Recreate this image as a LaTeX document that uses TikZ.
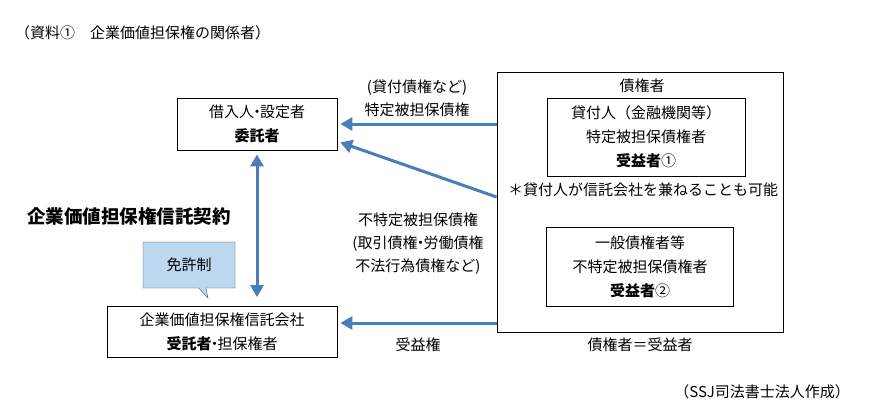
\documentclass[tikz,border=0pt]{standalone}
\usepackage{fontspec}
\setmainfont{Noto Sans CJK JP}
\usepackage{tikz}
\usetikzlibrary{arrows.meta,shapes.callouts}
\definecolor{arrblue}{RGB}{74,126,187}
\definecolor{calloutblue}{RGB}{189,215,238}
\newcommand{\nkg}{\kern-0.3em・\kern-0.3em}

\begin{document}
\begin{tikzpicture}
		[x=1pt,y=-1pt,
		 box/.style= {draw=black,thick,align=center,inner sep=0pt,font=\fontsize{15}{24}\selectfont},
		 lbl/.style= {align=center,inner sep=0pt,font=\fontsize{15}{23}\selectfont},
		 arr/.style= {arrblue,line width=3pt,-{Triangle[length=12pt,width=13pt]}}]

		\useasboundingbox (0,0) rectangle (872,418);

		\node[lbl,anchor=west] (title) at (15,33) {（資料①　企業価値担保権の関係者）}
		;

		\node[box,minimum width=160pt,minimum height=52pt] (itaku) at (257,124)
			{借入人\nkg 設定者\\\textbf{委託者}}
		;

		\node[box,minimum width=230pt,minimum height=51pt] (jutaku) at (222,332)
			{企業価値担保権信託会社\\\textbf{受託者}\nkg 担保権者}
		;

		\node[box,minimum width=286pt,minimum height=260pt] (saiken) at (640,202) {}
		;

		\node[lbl] (saikentitle) at (642,86) {債権者}
		;

		\node[box,minimum width=198pt,minimum height=78pt] (jueki1) at (646,137)
			{貸付人（金融機関等）\\特定被担保債権者\\\textbf{受益者}①}
		;

		\node[lbl] (kaneru) at (643,190) {＊貸付人が信託会社を兼ねることも可能}
		;

		\node[box,minimum width=187pt,minimum height=79pt] (jueki2) at (640,267)
			{一般債権者等\\不特定被担保債権者\\\textbf{受益者}②}
		;

		\node[lbl] (equal) at (640,345) {債権者＝受益者}
		;

		\node[lbl,anchor=west,font=\fontsize{18.5}{22}\selectfont\bfseries] (keiyaku) at (27,216)
			{企業価値担保権信託契約}
		;

		\node[rectangle callout,draw=black!70,fill=calloutblue,minimum width=92pt,minimum height=46pt,
			callout absolute pointer={(208,298)},font=\fontsize{15}{20}\selectfont] (menkyo) at (189,265)
			{免許制}
		;

		\node[lbl] (tokutei) at (417,98) {(貸付債権など)\\特定被担保債権}
		;

		\node[lbl] (futokutei) at (418,244) {不特定被担保債権\\(取引債権\nkg 労働債権\\不法行為債権など)}
		;

		\node[lbl] (juekiken) at (418,345) {受益権}
		;

		\node[lbl,anchor=east] (sakusei) at (850,392) {（SSJ司法書士法人作成）}
		;

		\draw[arr,shorten >=3pt] (saiken.west |- itaku.east) -- (itaku.east);
		\draw[arr,shorten >=3pt] ([yshift=5pt]saiken.west) -- ([yshift=9pt]itaku.south east);
		\draw[arr,shorten >=3pt] ([yshift=9pt]saiken.west |- jutaku.east) -- ([yshift=9pt]jutaku.east);
		\draw[arr,{Triangle[length=12pt,width=13pt]}-{Triangle[length=12pt,width=13pt]},shorten <=4pt,shorten >=9pt]
			(itaku.south) -- (itaku.south |- jutaku.north);

	\end{tikzpicture}
\end{document}
